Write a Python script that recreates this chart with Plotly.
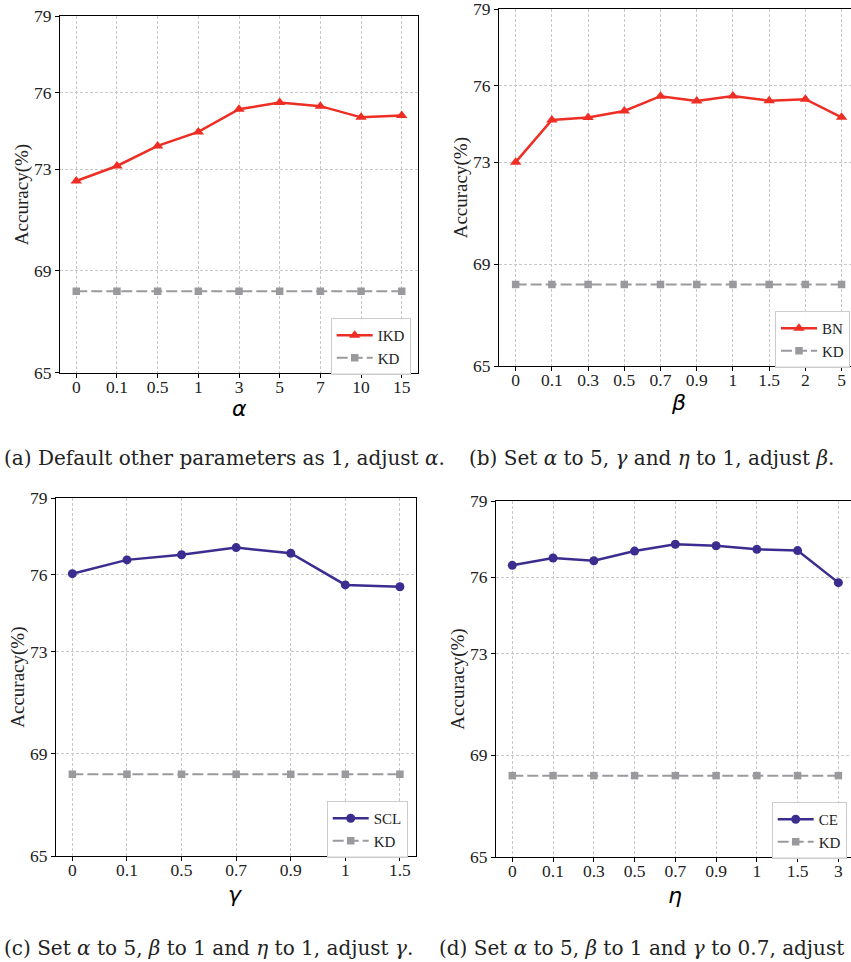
import plotly.graph_objects as go

# ---------------- data ----------------
alpha_labels = ["0", "0.1", "0.5", "1", "3", "5", "7", "10", "15"]
ikd_acc = [72.53, 73.12, 73.91, 74.46, 75.35, 75.61, 75.47, 75.03, 75.10]
kd_a = [68.2] * 9

beta_labels = ["0", "0.1", "0.3", "0.5", "0.7", "0.9", "1", "1.5", "2", "5"]
bn_acc = [73.00, 74.66, 74.75, 75.01, 75.59, 75.40, 75.60, 75.41, 75.47, 74.76]
kd_b = [68.2] * 10

gamma_labels = ["0", "0.1", "0.5", "0.7", "0.9", "1", "1.5"]
scl_acc = [76.05, 76.59, 76.79, 77.07, 76.85, 75.61, 75.54]
kd_c = [68.2] * 7

eta_labels = ["0", "0.1", "0.3", "0.5", "0.7", "0.9", "1", "1.5", "3"]
ce_acc = [76.47, 76.76, 76.65, 77.03, 77.30, 77.24, 77.10, 77.05, 75.79]
kd_d = [68.2] * 9

y_ticks = [65, 69, 73, 76, 79]

x_titles = ["α", "β", "γ", "η"]

captions = [
    "(a) Default other parameters as 1, adjust <i>α</i>.",
    "(b) Set <i>α</i> to 5, <i>γ</i> and <i>η</i> to 1, adjust <i>β</i>.",
    "(c) Set <i>α</i> to 5, <i>β</i> to 1 and <i>η</i> to 1, adjust <i>γ</i>.",
    "(d) Set <i>α</i> to 5, <i>β</i> to 1 and <i>γ</i> to 0.7, adjust <i>η</i>.",
]

# ---------------- styles ----------------
W, H = 851, 962
RED = "#EE2E24"
BLUE = "#3A2D8F"
GRAY = "#9A9A9E"
SERIF = "Liberation Serif"
CAPFONT = "DejaVu Serif"

def px_x(p):
    return p / W

def px_y(p):
    return 1 - p / H

fig = go.Figure()

panels = [
    dict(lab=alpha_labels, main=ikd_acc, kd=kd_a, name="IKD", color=RED, sym="triangle-up",
         xd=(60, 418), yd=(16.3, 372.7), xr=[-0.4, 8.4], leg=(330.7, 318), mirror_y=True,
         xt_pos=(239, 408)),
    dict(lab=beta_labels, main=bn_acc, kd=kd_b, name="BN", color=RED, sym="triangle-up",
         xd=(499, 851), yd=(9.3, 366), xr=[-0.46, 9.26], leg=(775, 311), mirror_y=False,
         xt_pos=(678, 403)),
    dict(lab=gamma_labels, main=scl_acc, kd=kd_c, name="SCL", color=BLUE, sym="circle",
         xd=(56, 416.3), yd=(498.3, 856), xr=[-0.3, 6.3], leg=(326.7, 801), mirror_y=True,
         xt_pos=(235, 894)),
    dict(lab=eta_labels, main=ce_acc, kd=kd_d, name="CE", color=BLUE, sym="circle",
         xd=(496, 851), yd=(501, 857), xr=[-0.4, 8.31], leg=(771.7, 802), mirror_y=False,
         xt_pos=(675, 895)),
]

layout = dict(
    width=W, height=H,
    margin=dict(l=0, r=0, t=0, b=0, autoexpand=False),
    paper_bgcolor="white", plot_bgcolor="white",
    showlegend=True,
    annotations=[],
)

for i, p in enumerate(panels, start=1):
    xa = "x" if i == 1 else f"x{i}"
    ya = "y" if i == 1 else f"y{i}"
    lg = "legend" if i == 1 else f"legend{i}"
    msize = 10 if p["sym"] == "triangle-up" else 9
    fig.add_trace(go.Scatter(
        x=p["lab"], y=p["main"], name=p["name"], mode="lines+markers",
        line=dict(color=p["color"], width=2.5),
        marker=dict(symbol=p["sym"], size=msize, color=p["color"]),
        xaxis=xa, yaxis=ya, legend=lg,
    ))
    fig.add_trace(go.Scatter(
        x=p["lab"], y=p["kd"], name="KD", mode="lines+markers",
        line=dict(color=GRAY, width=2, dash="11px,4px"),
        marker=dict(symbol="square", size=7.5, color=GRAY),
        xaxis=xa, yaxis=ya, legend=lg,
    ))
    xkey = "xaxis" if i == 1 else f"xaxis{i}"
    ykey = "yaxis" if i == 1 else f"yaxis{i}"
    layout[xkey] = dict(
        domain=[px_x(p["xd"][0]), px_x(p["xd"][1])],
        anchor=ya, type="category", range=p["xr"],
        showline=True, linecolor="black", linewidth=1.2, mirror=True,
        ticks="outside", ticklen=4, tickwidth=1, tickcolor="black",
        tickfont=dict(family=SERIF, size=17.5, color="#222"),
        ticklabeloverflow="allow", ticklabelstandoff=-6,
        showgrid=True, gridcolor="#c8c8c8", gridwidth=0.8, griddash="3px,2px",
        zeroline=False, fixedrange=True,
    )
    layout[ykey] = dict(
        domain=[px_y(p["yd"][1]), px_y(p["yd"][0])],
        anchor=xa, range=[65, 79], tickvals=y_ticks,
        showline=True, linecolor="black", linewidth=1.2, mirror=p["mirror_y"],
        ticks="outside", ticklen=4, tickwidth=1, tickcolor="black",
        tickfont=dict(family=SERIF, size=17.5, color="#222"),
        ticklabeloverflow="allow",
        showgrid=True, gridcolor="#c8c8c8", gridwidth=0.8, griddash="3px,2px",
        title=dict(text="Accuracy(%)", font=dict(family=SERIF, size=19, color="#222"), standoff=0),
        zeroline=False, fixedrange=True,
    )
    layout[lg] = dict(
        x=px_x(p["leg"][0]), y=px_y(p["leg"][1]), xanchor="left", yanchor="top",
        xref="paper", yref="paper",
        bgcolor="rgba(255,255,255,0.9)", bordercolor="#cccccc", borderwidth=1,
        font=dict(family=SERIF, size=15, color="#222"),
        tracegroupgap=0, itemwidth=36,
    )
    # x-axis title (italic Greek letter)
    layout["annotations"].append(dict(
        text=f"<i>{x_titles[i - 1]}</i>", x=px_x(p["xt_pos"][0]), y=px_y(p["xt_pos"][1]),
        xref="paper", yref="paper", xanchor="center", yanchor="middle", showarrow=False,
        font=dict(family="DejaVu Sans", size=22, color="black"),
    ))

cap_pos = [(2, 458), (467, 458), (2, 948), (437, 948)]
for (cx, cy), txt in zip(cap_pos, captions):
    layout["annotations"].append(dict(
        text=txt, x=px_x(cx), y=px_y(cy), xref="paper", yref="paper",
        xanchor="left", yanchor="middle", showarrow=False,
        font=dict(family=CAPFONT, size=20, color="#222"),
    ))

fig.update_layout(**layout)
fig.write_html(
    "out.html",
    config={"displayModeBar": False},
    post_script="document.body.style.margin='0';document.body.style.overflow='hidden';",
)
